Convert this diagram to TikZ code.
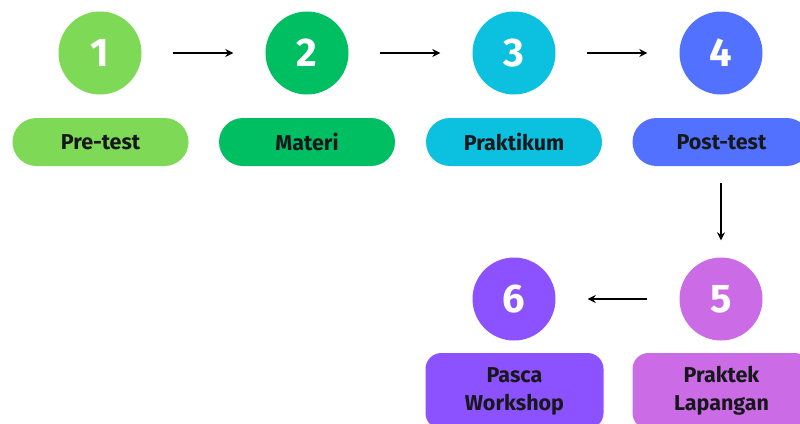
\documentclass[tikz,border=0pt]{standalone}
\usepackage{fontspec}
\setmainfont{Fira Sans}
\usetikzlibrary{arrows.meta}
\definecolor{cA}{HTML}{7ED957}
\definecolor{cB}{HTML}{00BF63}
\definecolor{cC}{HTML}{0CC0DF}
\definecolor{cD}{HTML}{5271FF}
\definecolor{cE}{HTML}{CB6CE6}
\definecolor{cF}{HTML}{8C52FF}
\definecolor{txt}{HTML}{17181C}
\tikzset{
  numcirc/.style={circle, minimum size=83pt, inner sep=0pt, text=white,
    font=\fontsize{40}{44}\selectfont\bfseries},
  pill/.style={rectangle, rounded corners=24pt, minimum width=176pt, minimum height=48pt,
    inner sep=0pt, text=txt, font=\fontsize{21.5}{24}\selectfont\bfseries},
  tallbox/.style={rectangle, rounded corners=16pt, minimum width=178pt, minimum height=76pt,
    inner sep=0pt, text=txt, align=center, font=\fontsize{21.5}{28}\selectfont\bfseries},
  flow/.style={line width=1.8pt, -{Stealth[length=8pt,width=8pt]}}
}
\begin{document}
\begin{tikzpicture}[x=1pt,y=-1pt]
\clip (0,0) rectangle (800,423);
\fill[white] (0,0) rectangle (800,423);
% circles
\node[numcirc, fill=cA] (n1) at (100,53) {1};
\node[numcirc, fill=cB] (n2) at (307,53) {2};
\node[numcirc, fill=cC] (n3) at (514,53) {3};
\node[numcirc, fill=cD] (n4) at (721,53) {4};
\node[numcirc, fill=cE] (n5) at (721,299) {5};
\node[numcirc, fill=cF] (n6) at (514,299) {6};
% labels
\node[pill, fill=cA] (p1) at (100.5,142) {Pre-test};
\node[pill, fill=cB] (p2) at (307,142) {Materi};
\node[pill, fill=cC] (p3) at (514,142) {Praktikum};
\node[pill, fill=cD, minimum width=178pt] (p4) at (721.5,142) {Post-test};
\node[tallbox, fill=cF] (b6) at (514.5,391) {Pasca\\Workshop};
\node[tallbox, fill=cE] (b5) at (721.5,391) {Praktek\\Lapangan};
% connectors
\draw[flow, shorten <=31pt, shorten >=32pt] (n1) -- (n2);
\draw[flow, shorten <=31pt, shorten >=32pt] (n2) -- (n3);
\draw[flow, shorten <=31pt, shorten >=32pt] (n3) -- (n4);
\draw[flow, shorten <=17pt, shorten >=17pt] (p4.south -| n5) -- (n5);
\draw[flow, shorten <=32pt, shorten >=32pt] (n5) -- (n6);
\end{tikzpicture}
\end{document}
